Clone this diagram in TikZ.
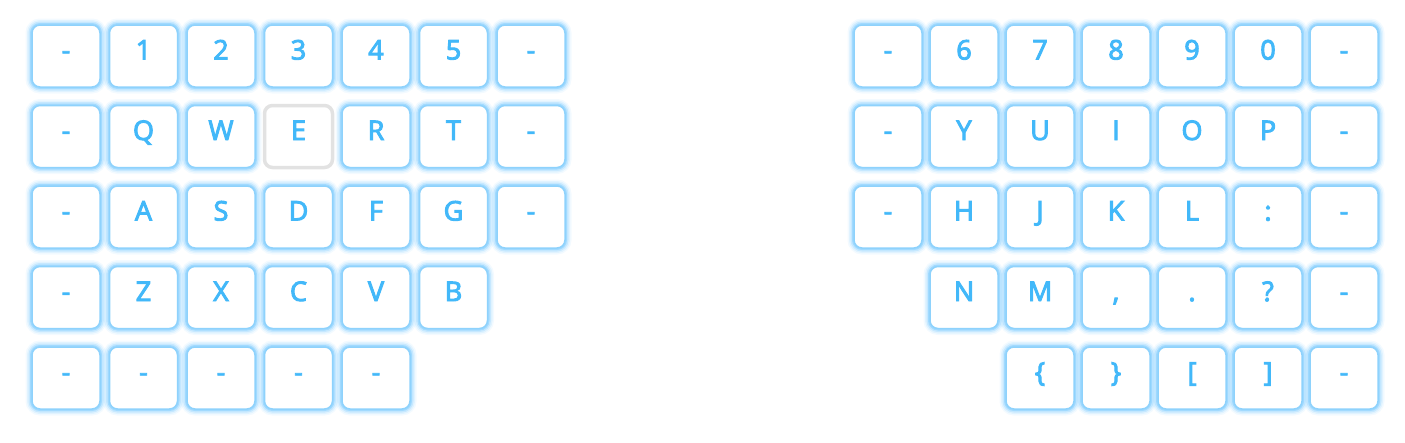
\documentclass[tikz,border=0pt]{standalone}
\usepackage{fontspec}
\setmainfont{Open Sans}
\newfontfamily\keyfont[FakeBold=3.5]{Open Sans}
\definecolor{keytext}{HTML}{42B8F9}
\definecolor{keyborder}{HTML}{8ED2FC}
\definecolor{glow}{HTML}{5CBEFF}
\definecolor{ekey}{HTML}{E2E2E2}
\tikzset{
  keybase/.style={rectangle, rounded corners=8pt, minimum width=68pt, minimum height=62pt,
    inner sep=0pt, fill=white, text=keytext, font=\keyfont\fontsize{27}{27}\selectfont,
    text height=19pt, text depth=12pt},
  keyglow/.style={keybase, draw=keyborder, line width=1.5pt,
    preaction={draw=glow, line width=13pt, opacity=0.07},
    preaction={draw=glow, line width=10pt, opacity=0.12},
    preaction={draw=glow, line width=7pt, opacity=0.2},
    preaction={draw=glow, line width=4pt, opacity=0.35}},
  selkey/.style={keybase, draw=ekey, line width=3.5pt}
}
\begin{document}
\begin{tikzpicture}[x=1pt,y=-1pt]
\useasboundingbox (0,0) rectangle (1405,442);
% left half
\foreach \t [count=\c from 0] in {-,1,2,3,4,5,-}
  \node[keyglow] (L0\c) at (66+77.5*\c, 56) {\t};
\foreach \t/\s [count=\c from 0] in {-/keyglow,Q/keyglow,W/keyglow,E/selkey,R/keyglow,T/keyglow,-/keyglow}
  \node[\s] (L1\c) at (66+77.5*\c, 136.5) {\t};
\foreach \t [count=\c from 0] in {-,A,S,D,F,G,-}
  \node[keyglow] (L2\c) at (66+77.5*\c, 217) {\t};
\foreach \t [count=\c from 0] in {-,Z,X,C,V,B}
  \node[keyglow] (L3\c) at (66+77.5*\c, 297.5) {\t};
\foreach \t [count=\c from 0] in {-,-,-,-,-}
  \node[keyglow] (L4\c) at (66+77.5*\c, 378) {\t};
% right half
\foreach \t [count=\c from 0] in {-,6,7,8,9,0,-}
  \node[keyglow] (R0\c) at (888+76*\c, 56) {\t};
\foreach \t [count=\c from 0] in {-,Y,U,I,O,P,-}
  \node[keyglow] (R1\c) at (888+76*\c, 136.5) {\t};
\foreach \t [count=\c from 0] in {-,H,J,K,L,:,-}
  \node[keyglow] (R2\c) at (888+76*\c, 217) {\t};
\foreach \t [count=\c from 1] in {N,M,{,},.,?,-}
  \node[keyglow] (R3\c) at (888+76*\c, 297.5) {\t};
\foreach \t [count=\c from 2] in {\{,\},[,],-}
  \node[keyglow] (R4\c) at (888+76*\c, 378) {\t};
\end{tikzpicture}
\end{document}
